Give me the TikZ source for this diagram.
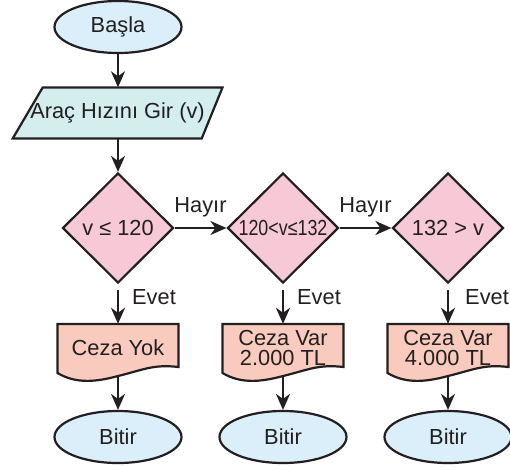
\documentclass[tikz,border=0pt]{standalone}
\usepackage{fontspec}
\setmainfont{Liberation Sans}
\usepackage{graphicx}
\usetikzlibrary{shapes.geometric,arrows.meta,backgrounds,calc}
\definecolor{termfill}{HTML}{DAEFFA}
\definecolor{iofill}{HTML}{D4EDED}
\definecolor{decfill}{HTML}{F7C9D6}
\definecolor{docfill}{HTML}{F9CBBF}
\definecolor{ink}{HTML}{231F20}
\newcommand\docshape[1]{%
  \begin{scope}[on background layer, shift={(#1.center)}]
    \draw[outline, fill=docfill] (-60.5,-24) -- (60.5,-24) -- (60.5,19)
      .. controls (35,16) and (25,22) .. (0,28)
      .. controls (-22,34) and (-42,36) .. (-60.5,25) -- cycle;
  \end{scope}}
\begin{document}
\begin{tikzpicture}[x=1pt,y=-1pt,
  every node/.style={font=\fontsize{21.8}{20.5}\selectfont, text=ink, inner sep=0pt},
  outline/.style={draw=ink, line width=2.2pt},
  term/.style={outline, ellipse, fill=termfill, minimum width=127pt, minimum height=52pt},
  decision/.style={outline, diamond, fill=decfill, minimum width=111pt, minimum height=110pt},
  docbox/.style={rectangle, minimum width=121pt, minimum height=48pt, align=center},
  iobox/.style={rectangle, minimum width=180pt, minimum height=51pt},
  flow/.style={draw=ink, line width=2.2pt, -{Stealth[length=16pt,width=14pt,inset=5pt]}},
  lbl/.style={}
]
\useasboundingbox (0,0) rectangle (510,466);

\node[term] (start) at (118,27) {\makebox[0pt]{Başla}};

\node[iobox] (inp) at (117.5,113) {\makebox[0pt]{Araç Hızını Gir (v)}};
\begin{scope}[on background layer]
  \draw[outline, fill=iofill] (42.7,87.5) -- (222.5,87.5) -- (201.7,138.5) -- (12.7,138.5) -- cycle;
\end{scope}

\node[decision] (dec1) at (118,228) {\makebox[0pt]{v ≤ 120}};
\node[decision] (dec2) at (283,228) {\makebox[0pt]{\scalebox{0.82}[1]{120<v≤132}}};
\node[decision] (dec3) at (448,228) {\makebox[0pt]{132 > v}};

\node[docbox] (doc1) at (118,348) {Ceza Yok};
\node[docbox] (doc2) at (283,348) {Ceza Var\\2.000 TL};
\node[docbox] (doc3) at (448,348) {Ceza Var\\4.000 TL};
\docshape{doc1}
\docshape{doc2}
\docshape{doc3}

\node[term] (end1) at (118,437) {\makebox[0pt]{Bitir}};
\node[term] (end2) at (283,437) {\makebox[0pt]{Bitir}};
\node[term] (end3) at (448,437) {\makebox[0pt]{Bitir}};

\coordinate (y1) at (118,290);
\coordinate (y2) at (283,290);
\coordinate (y3) at (448,290);
\coordinate (b1) at (118,377);
\coordinate (b2) at (283,377);
\coordinate (b3) at (448,377);

\draw[flow] (start.south) -- (start.south |- inp.north);
\draw[flow] (dec1.north |- inp.south) -- (dec1.north);
\draw[flow] (dec1.east) -- node[lbl, above=10pt] {Hayır} (dec2.west);
\draw[flow] (dec2.east) -- node[lbl, above=10pt] {Hayır} (dec3.west);

\draw[flow] (y1) -- (doc1.north);
\draw[flow] (y2) -- (doc2.north);
\draw[flow] (y3) -- (doc3.north);
\node[lbl, anchor=west] (ev1) at (132,297) {Evet};
\node[lbl, anchor=west] (ev2) at (297,297) {Evet};
\node[lbl, anchor=west] (ev3) at (465,297) {Evet};

\draw[flow] (b1) -- (end1);
\draw[flow] (b2) -- (end2);
\draw[flow] (b3) -- (end3);
\end{tikzpicture}
\end{document}
